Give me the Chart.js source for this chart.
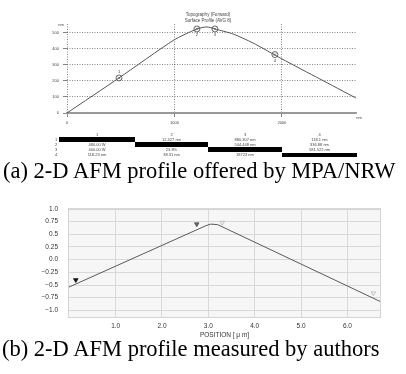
<!DOCTYPE html>
<html>
<head>
<meta charset="utf-8">
<script src="https://cdn.jsdelivr.net/npm/chart.js@4.4.1/dist/chart.umd.min.js"></script>
<style>
  html, body { margin: 0; padding: 0; background: #fff; }
  #page { position: relative; width: 406px; height: 374px; overflow: hidden; font-family: "Liberation Sans", Arial, sans-serif; }
  canvas { position: absolute; left: 0; }
  #chartA { top: 0; }
  #chartB { top: 195px; }
  .t { position: absolute; white-space: nowrap; color: #444; font-size: 4px; line-height: 4px; transform: translate(-50%, -50%); }
  .bar { position: absolute; background: #000; }
  .cap { position: absolute; white-space: nowrap; font-family: "Liberation Serif", "Times New Roman", serif; font-size: 22.5px; line-height: 22.5px; color: #000; }
</style>
</head>
<body>
<div id="page">
  <canvas id="chartA" width="406" height="130"></canvas>
  <div class="t" style="left:208px;top:15px;font-size:4.5px">Topography (Forward)</div>
  <div class="t" style="left:208px;top:21px;font-size:4.5px">Surface Profile (AVG 8)</div>
  <div class="t" style="left:61px;top:25px">nm</div>
  <div class="t" style="left:359px;top:118px">nm</div>
  <div id="table"></div>
  <div class="cap" style="left:3px;top:160px">(a) 2-D AFM profile offered by MPA/NRW</div>
  <canvas id="chartB" width="406" height="145"></canvas>
  <div class="cap" style="left:2px;top:338px">(b) 2-D AFM profile measured by authors</div>
</div>
<script>
// (a) profile from MPA/NRW software, position and height in nm
const profileAX = [0, 484, 995, 1209, 1302, 1377, 1544, 1730, 2000, 2353, 2688];
const profileAY = [0, 219, 456, 525, 538, 525, 494, 438, 338, 213, 94];
const markerAX = [484, 1209, 1377, 1935];
const markerAY = [219, 525, 525, 365];
const markerALabels = ['1', '2', '3', '4'];
const xTicksA = [0, 1000, 2000];
const yTicksA = [0, 100, 200, 300, 400, 500];

// measurement table under (a)
const tableCols = ['1', '2', '3', '4'];
const tableRowNames = ['1', '2', '3', '4'];
const tableText = [
  ['', '480.00 W', '400.00 W', '118.23 nm'],
  ['12.427 nm', '', '23.8%', '38.31 nm'],
  ['880.307 nm', '544.448 nm', '', '18723 nm'],
  ['118.1 nm', '336.88 nm', '581.522 nm', '']
];

// (b) profile measured by the authors, position in um
const profileBX = [-0.03, 2.95, 3.05, 3.2, 6.72];
const profileBY = [-0.55, 0.67, 0.70, 0.69, -0.83];
const cursorBX = [0.14, 2.75, 3.3, 6.56];
const cursorBY = [-0.40, 0.70, 0.73, -0.66];
const xTicksB = [1, 2, 3, 4, 5, 6];
const xTickLabelsB = ['1.0', '2.0', '3.0', '4.0', '5.0', '6.0'];
const yTicksB = [-1.0, -0.75, -0.5, -0.25, 0, 0.25, 0.5, 0.75, 1.0];
const yTickLabelsB = ['\u22121.0', '\u22120.75', '\u22120.5', '\u22120.25', '0.0', '0.25', '0.5', '0.75', '1.0'];

const toPoints = (xs, ys) => xs.map((x, i) => ({ x, y: ys[i] }));

// --- table ---
const colLeft = [59, 135, 208, 282];
const colRight = [135, 208, 282, 357];
const rowY = [139.5, 144.5, 149.5, 155];
const headerY = 134.5;
let html = '';
tableCols.forEach((c, ci) => {
  const cx = (colLeft[ci] + colRight[ci]) / 2;
  html += `<div class="t" style="left:${cx}px;top:${headerY}px">${c}</div>`;
  tableText[ci].forEach((txt, ri) => {
    if (ri === ci) {
      html += `<div class="bar" style="left:${colLeft[ci]}px;top:${rowY[ri] - 2.3}px;width:${colRight[ci] - colLeft[ci]}px;height:4.6px"></div>`;
    } else {
      html += `<div class="t" style="left:${cx}px;top:${rowY[ri]}px">${txt}</div>`;
    }
  });
});
tableRowNames.forEach((r, ri) => {
  html += `<div class="t" style="left:56px;top:${rowY[ri]}px">${r}</div>`;
});
document.getElementById('table').innerHTML = html;

// --- chart (a) ---
const markerText = {
  id: 'markerText',
  afterDatasetsDraw(chart) {
    const { ctx, scales: { x, y } } = chart;
    ctx.save();
    ctx.font = '4px "Liberation Sans", Arial, sans-serif';
    ctx.fillStyle = '#333';
    ctx.textAlign = 'center';
    ctx.textBaseline = 'middle';
    markerAX.forEach((mx, i) => {
      const dy = i === 0 ? -6 : 6;
      ctx.fillText(markerALabels[i], x.getPixelForValue(mx), y.getPixelForValue(markerAY[i]) + dy);
    });
    ctx.restore();
  }
};

new Chart(document.getElementById('chartA'), {
  type: 'line',
  data: {
    datasets: [{
      data: toPoints(profileAX, profileAY),
      borderColor: '#555',
      borderWidth: 1,
      pointRadius: 0,
      tension: 0.2
    }, {
      data: toPoints(markerAX, markerAY),
      showLine: false,
      pointStyle: 'circle',
      pointRadius: 3,
      pointBorderWidth: 0.8,
      pointBorderColor: '#444',
      pointBackgroundColor: 'rgba(255,255,255,0)'
    }, {
      data: toPoints(markerAX, markerAY),
      showLine: false,
      pointStyle: 'crossRot',
      pointRadius: 2,
      pointBorderWidth: 0.6,
      pointBorderColor: '#555'
    }]
  },
  options: {
    responsive: false,
    animation: false,
    layout: { padding: { top: 24, right: 50, left: 0, bottom: 0 } },
    plugins: { legend: { display: false }, tooltip: { enabled: false } },
    scales: {
      x: {
        type: 'linear',
        min: 0,
        max: 2690,
        afterBuildTicks: (s) => { s.ticks = xTicksA.map((v) => ({ value: v })); },
        afterFit: (s) => { s.height = 17; },
        grid: { color: '#666', lineWidth: 0.8, tickLength: 4, tickBorderDash: [], tickColor: '#666' },
        border: { display: true, color: '#999', width: 2, dash: [1, 1.5] },
        ticks: {
          padding: 3,
          maxRotation: 0,
          color: '#444',
          font: { size: 4, family: '"Liberation Sans", Arial, sans-serif' },
          callback: (v) => String(v)
        }
      },
      y: {
        min: 0,
        max: 556,
        afterBuildTicks: (s) => { s.ticks = yTicksA.map((v) => ({ value: v })); },
        afterFit: (s) => { s.width = 67; },
        grid: { color: '#666', lineWidth: 0.8, tickLength: 4, tickBorderDash: [], tickColor: '#666' },
        border: { display: false, dash: [1, 1.5] },
        ticks: { padding: 4, color: '#444', font: { size: 4, family: '"Liberation Sans", Arial, sans-serif' } }
      }
    }
  },
  plugins: [markerText]
});

// --- chart (b) ---
const plotFrame = {
  id: 'plotFrame',
  beforeDraw(chart) {
    const { ctx, chartArea: a } = chart;
    ctx.save();
    ctx.fillStyle = '#f6f6f6';
    ctx.fillRect(a.left, a.top, a.width, a.height);
    ctx.restore();
  },
  afterDraw(chart) {
    const { ctx, chartArea: a } = chart;
    ctx.save();
    ctx.strokeStyle = '#d4d4d4';
    ctx.lineWidth = 1;
    ctx.strokeRect(Math.round(a.left) + 0.5, Math.round(a.top) + 0.5, Math.round(a.width) - 1, Math.round(a.height) - 1);
    ctx.restore();
  }
};

new Chart(document.getElementById('chartB'), {
  type: 'line',
  data: {
    datasets: [{
      data: toPoints(profileBX, profileBY),
      borderColor: '#5a5a5a',
      borderWidth: 1,
      pointRadius: 0,
      tension: 0
    }, {
      data: toPoints(cursorBX, cursorBY),
      showLine: false,
      pointStyle: 'triangle',
      rotation: 180,
      pointRadius: 2.6,
      pointBorderWidth: 0.8,
      pointBorderColor: ['#111', '#555', '#b5b5b5', '#b5b5b5'],
      pointBackgroundColor: ['#111', '#666', 'rgba(255,255,255,0)', 'rgba(255,255,255,0)']
    }]
  },
  options: {
    responsive: false,
    animation: false,
    layout: { padding: { top: 13, right: 25, left: 0, bottom: 0 } },
    plugins: { legend: { display: false }, tooltip: { enabled: false } },
    scales: {
      x: {
        type: 'linear',
        min: -0.028,
        max: 6.725,
        afterBuildTicks: (s) => { s.ticks = xTicksB.map((v) => ({ value: v })); },
        afterFit: (s) => { s.height = 22; },
        grid: { color: '#d9d9d9', lineWidth: 1, drawTicks: false },
        border: { display: false },
        ticks: {
          padding: 4,
          maxRotation: 0,
          color: '#333',
          font: { size: 6.5, family: '"Liberation Sans", Arial, sans-serif' },
          callback: (v) => xTickLabelsB[xTicksB.indexOf(v)]
        },
        title: {
          display: true,
          text: 'POSITION [ \u03bc m]',
          color: '#333',
          padding: { top: 0, bottom: 1 },
          font: { size: 6.5, family: '"Liberation Sans", Arial, sans-serif' }
        }
      },
      y: {
        min: -1.15,
        max: 1.0,
        afterBuildTicks: (s) => { s.ticks = yTicksB.map((v) => ({ value: v })); },
        afterFit: (s) => { s.width = 68; },
        grid: { color: '#d9d9d9', lineWidth: 1, drawTicks: false },
        border: { display: false },
        ticks: {
          padding: 10,
          color: '#333',
          font: { size: 6.5, family: '"Liberation Sans", Arial, sans-serif' },
          callback: (v) => yTickLabelsB[yTicksB.indexOf(v)]
        }
      }
    }
  },
  plugins: [plotFrame]
});
</script>
</body>
</html>
